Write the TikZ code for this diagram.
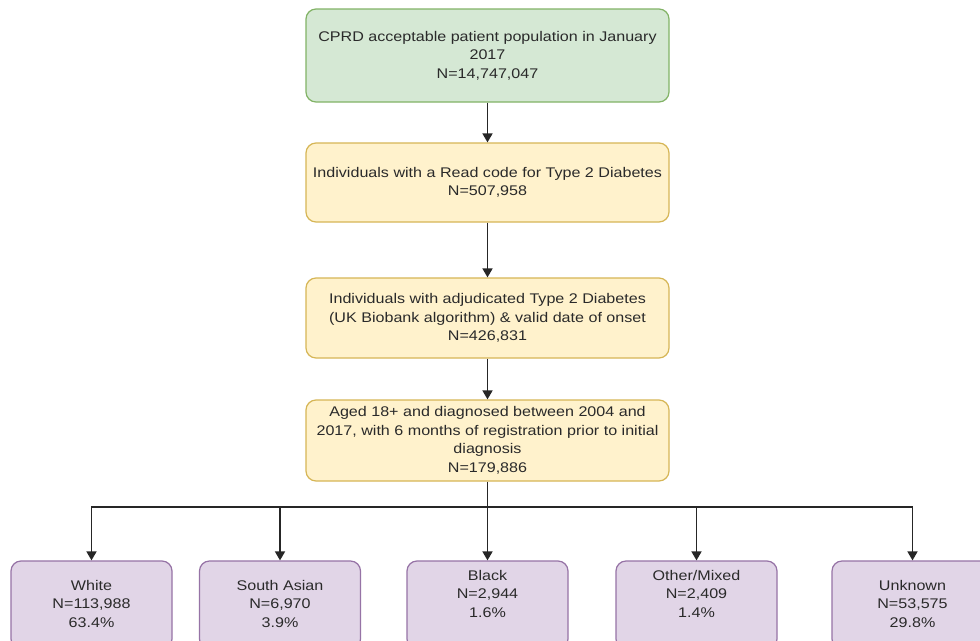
\documentclass[tikz,border=0pt]{standalone}
\usepackage{fontspec}
\setmainfont{Liberation Sans}[FakeStretch=1.15]
\usetikzlibrary{arrows.meta}
\definecolor{gfill}{HTML}{D5E8D4}\definecolor{gline}{HTML}{82B366}
\definecolor{yfill}{HTML}{FFF2CC}\definecolor{yline}{HTML}{D6B656}
\definecolor{pfill}{HTML}{E1D5E7}\definecolor{pline}{HTML}{9673A6}
\definecolor{txtc}{HTML}{2A2A2A}
\begin{document}
\begin{tikzpicture}[x=1pt,y=-1pt,
  every node/.style={font=\fontsize{14}{18.5}\selectfont, text=txtc, align=center, inner sep=0pt},
  box/.style={draw, line width=1.2pt, rounded corners=10pt, minimum width=363pt},
  gbox/.style={box, fill=gfill, draw=gline},
  ybox/.style={box, fill=yfill, draw=yline},
  pbox/.style={draw=pline, fill=pfill, line width=1.2pt, rounded corners=10pt, minimum width=161pt, minimum height=88pt},
  arr/.style={draw=black!85, line width=1.6pt, -{Triangle[width=10pt,length=9pt]}},
  ln/.style={draw=black!85, line width=1.6pt}]
\path[use as bounding box] (0,0) rectangle (980,640);
\clip (0,0) rectangle (980,640);
\fill[white] (0,0) rectangle (980,640);
\node[gbox, minimum height=93pt] (n1) at (487.5,55.5) {CPRD acceptable patient population in January\\2017\\N=14,747,047};
\node[ybox, minimum height=79pt] (n2) at (487.5,182.5) {Individuals with a Read code for Type 2 Diabetes\\N=507,958};
\node[ybox, minimum height=80pt] (n3) at (487.5,318) {Individuals with adjudicated Type 2 Diabetes\\(UK Biobank algorithm) \& valid date of onset\\N=426,831};
\node[ybox, minimum height=81pt] (n4) at (487.5,440.5) {Aged 18+ and diagnosed between 2004 and\\2017, with 6 months of registration prior to initial\\diagnosis\\N=179,886};
\node[pbox] (w) at (91.5,605) {};
\node (wt) at (91.5,603.5) {White\\N=113,988\\63.4\%};
\node[pbox] (sa) at (280,605) {};
\node (sat) at (280,603.5) {South Asian\\N=6,970\\3.9\%};
\node[pbox] (bl) at (487.5,605) {};
\node (blt) at (487.5,593.5) {Black\\N=2,944\\1.6\%};
\node[pbox] (om) at (696.5,605) {};
\node (omt) at (696.5,593.5) {Other/Mixed\\N=2,409\\1.4\%};
\node[pbox] (un) at (912.5,605) {};
\node (unt) at (912.5,603.5) {Unknown\\N=53,575\\29.8\%};
\draw[arr] (n1) -- (n2);
\draw[arr] (n2) -- (n3);
\draw[arr] (n3) -- (n4);
\coordinate (sp) at (487.5,507);
\draw[arr] (n4) -- (bl);
\draw[arr] (sp) -| (w.north);
\draw[arr] (sp) -| (sa.north);
\draw[arr] (sp) -| (om.north);
\draw[arr] (sp) -| (un.north);
\end{tikzpicture}
\end{document}
